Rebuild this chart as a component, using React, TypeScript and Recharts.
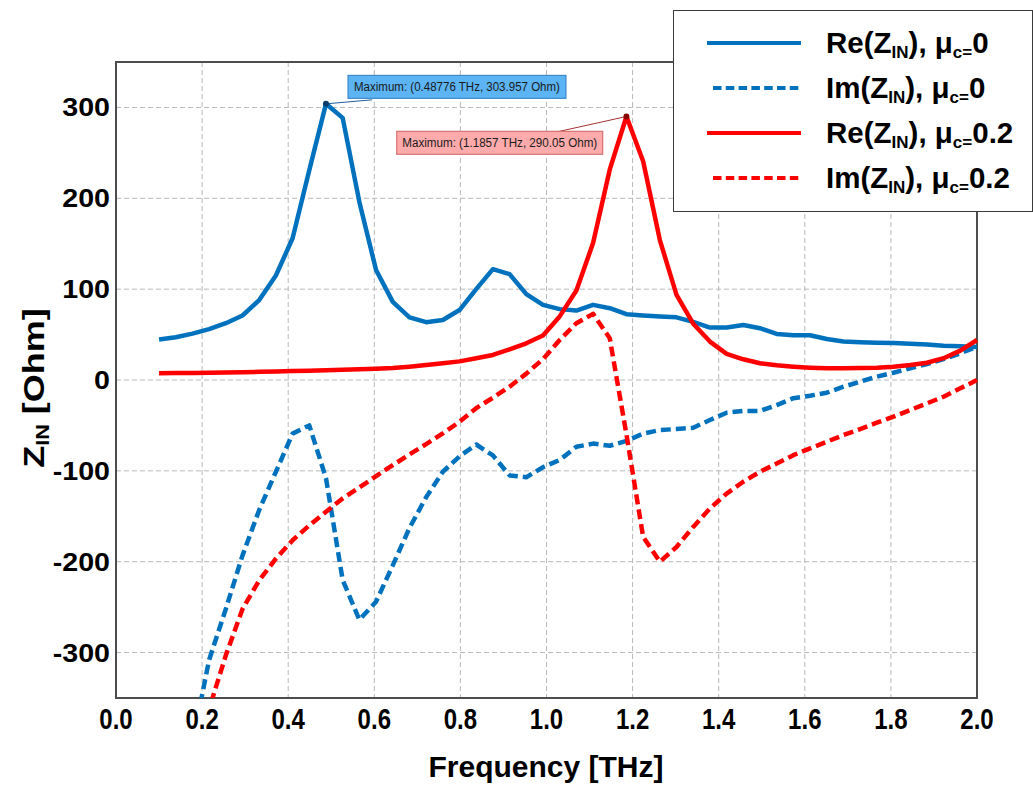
import React from 'react'
import {
  LineChart,
  Line,
  XAxis,
  YAxis,
  CartesianGrid,
  ReferenceArea,
  ReferenceDot,
  Legend,
} from 'recharts'

// frequency points [THz]
const freq = [
  0.1, 0.1388, 0.1776, 0.2163, 0.2551, 0.2939, 0.3327, 0.3714, 0.4102, 0.449,
  0.48776, 0.5265, 0.5653, 0.6041, 0.6429, 0.6816, 0.7204, 0.7592, 0.798, 0.8367,
  0.8755, 0.9143, 0.9531, 0.9918, 1.0306, 1.0694, 1.1082, 1.1469, 1.1857, 1.2245,
  1.2633, 1.302, 1.3408, 1.3796, 1.4184, 1.4571, 1.4959, 1.5347, 1.5735, 1.6122,
  1.651, 1.6898, 1.7286, 1.7673, 1.8061, 1.8449, 1.8837, 1.9224, 1.9612, 2.0,
]

// Re / Im of Z_IN [Ohm], mu_c = 0
const reMu0 = [
  44.5, 47, 51, 56, 62.5, 71, 88, 115, 156, 231,
  303.957, 288.5, 196, 121, 86, 69, 63.6, 66, 77, 100,
  122, 116.5, 94.5, 82.7, 78, 76.4, 82.7, 79, 72.4, 71,
  70, 69, 64, 57.7, 57.7, 60.6, 57, 50.7, 49.3, 49.3,
  45.2, 42.3, 41.6, 41.1, 40.8, 40, 39, 37.8, 37.1, 36.4,
]
const imMu0 = [
  -700, -540, -400, -308, -252, -193, -143, -101, -59, -50,
  -108, -220, -264, -244, -204, -163, -129, -101, -84, -71,
  -83, -105, -107, -96, -88, -73.5, -70, -72.4, -67, -59,
  -55, -54, -52.5, -44, -36, -34, -34, -27.6, -20, -17.3,
  -14, -7.4, -1.8, 3.7, 8, 12.9, 17.6, 23, 29.4, 36.7,
]

// Re / Im of Z_IN [Ohm], mu_c = 0.2
const reMu02 = [
  7.5, 7.6, 7.8, 8, 8.3, 8.6, 9, 9.4, 9.8, 10.3,
  10.8, 11.3, 11.9, 12.5, 13.3, 14.7, 16.5, 18.4, 20.5, 23.9,
  27.6, 33.8, 40.4, 49, 70, 98.5, 150.7, 231.5, 290.05, 240.7,
  154, 93.7, 62, 42.3, 28.7, 22.8, 18.4, 16.2, 14.7, 13.6,
  12.9, 12.9, 13.2, 13.6, 14.7, 16.5, 19, 24, 32.3, 44,
]
const imMu02 = [
  -680, -540, -440, -362, -303, -252, -220.5, -196.6, -176.4, -160,
  -145, -130.4, -118.3, -105.8, -93.7, -82, -70.6, -58.8, -46, -31,
  -19.5, -7.4, 7, 23, 44, 62.5, 72.8, 46, -60, -172.7,
  -200, -183.8, -161.7, -141.5, -125, -112, -101, -91.9, -82.7, -75.3,
  -68, -60.6, -54, -47, -40.4, -33, -25.7, -18.4, -9.2, 0,
]

const xTicks = [0, 0.2, 0.4, 0.6, 0.8, 1.0, 1.2, 1.4, 1.6, 1.8, 2.0]
const yTicks = [-300, -200, -100, 0, 100, 200, 300]

const peakBlue = { f: 0.48776, z: 303.957 }
const peakRed = { f: 1.1857, z: 290.05 }

const BLUE = '#0072BD'
const RED = '#FF0000'
const FONT = '"Liberation Sans", Arial, sans-serif'

const data = freq.map((f, i) => ({
  f,
  re0: reMu0[i],
  im0: imMu0[i],
  re2: reMu02[i],
  im2: imMu02[i],
}))

const series = [
  { key: 're0', color: BLUE, dashed: false, part: 'Re', mu: '0' },
  { key: 'im0', color: BLUE, dashed: true, part: 'Im', mu: '0' },
  { key: 're2', color: RED, dashed: false, part: 'Re', mu: '0.2' },
  { key: 'im2', color: RED, dashed: true, part: 'Im', mu: '0.2' },
]

function XTick(props: any) {
  const { x, y, payload } = props
  return (
    <g transform={`translate(${x},${y + 23}) scale(0.8,1)`}>
      <text textAnchor="middle" fontSize={30} fontWeight="bold" fontFamily={FONT} fill="#000">
        {payload.value.toFixed(1)}
      </text>
    </g>
  )
}

function YTick(props: any) {
  const { x, y, payload } = props
  return (
    <g transform={`translate(${x + 2},${y + 9}) scale(1.1,1)`}>
      <text textAnchor="end" fontSize={26} fontWeight="bold" fontFamily={FONT} fill="#000">
        {payload.value}
      </text>
    </g>
  )
}

const xTitle = () => (
  <text x={546} y={777} textAnchor="middle" fontSize={30} fontWeight="bold" fontFamily={FONT} fill="#000">
    Frequency [THz]
  </text>
)

const yTitle = () => (
  <g transform="translate(44,388) rotate(-90) scale(1.2,1)">
    <text textAnchor="middle" fontSize={30} fontWeight="bold" fontFamily={FONT} fill="#000">
      Z
      <tspan fontSize={18} dy={5}>IN</tspan>
      <tspan dy={-5}> [Ohm]</tspan>
    </text>
  </g>
)

function BlueNote(props: any) {
  const { cx, cy } = props
  return (
    <g>
      <line x1={cx} y1={cy} x2={cx + 46} y2={cy - 4} stroke="#1d5f9c" strokeWidth={1} />
      <rect x={cx + 22} y={cy - 28.5} width={218} height={23} fill="#5cb4f4" stroke="#2e7dc2" />
      <text
        x={cx + 131}
        y={cy - 12.5}
        textAnchor="middle"
        fontSize={12}
        fontFamily={FONT}
        fill="#1a1a1a"
        textLength={206}
        lengthAdjust="spacingAndGlyphs"
      >
        Maximum: (0.48776 THz, 303.957 Ohm)
      </text>
      <circle cx={cx} cy={cy} r={3} fill="#0b3d6b" />
    </g>
  )
}

function RedNote(props: any) {
  const { cx, cy } = props
  return (
    <g>
      <line x1={cx} y1={cy} x2={cx - 72} y2={cy + 16} stroke="#a33" strokeWidth={1} />
      <rect x={cx - 229.7} y={cy + 14.8} width={206} height={23} fill="#ffabab" stroke="#d06060" />
      <text
        x={cx - 126.7}
        y={cy + 31}
        textAnchor="middle"
        fontSize={12}
        fontFamily={FONT}
        fill="#1a1a1a"
        textLength={195}
        lengthAdjust="spacingAndGlyphs"
      >
        Maximum: (1.1857 THz, 290.05 Ohm)
      </text>
      <circle cx={cx} cy={cy} r={3} fill="#8b0000" />
    </g>
  )
}

function LegendBox() {
  return (
    <div
      style={{
        width: 360,
        height: 202,
        boxSizing: 'border-box',
        border: '1.5px solid #3a3a3a',
        background: '#fff',
      }}
    >
      <svg width={357} height={199} style={{ display: 'block' }}>
        {series.map((s, i) => {
          const cy = 32 + i * 45
          return (
            <g key={s.key}>
              <line
                x1={s.dashed ? 39 : 33}
                x2={127}
                y1={cy}
                y2={cy}
                stroke={s.color}
                strokeWidth={4}
                strokeDasharray={s.dashed ? '8.5 4.3' : undefined}
              />
              <text x={152} y={cy + 10} fontSize={29.5} fontWeight="bold" fontFamily={FONT} fill="#000">
                {s.part}(Z
                <tspan fontSize={17} dy={5}>IN</tspan>
                <tspan dy={-5}>), μ</tspan>
                <tspan fontSize={17} dy={5}>c=</tspan>
                <tspan dy={-5}>{s.mu}</tspan>
              </text>
            </g>
          )
        })}
      </svg>
    </div>
  )
}

export default function App() {
  return (
    <div style={{ position: 'absolute', left: 0, top: 0, width: 1033, height: 785, background: '#fff' }}>
      <LineChart width={1033} height={785} data={data} margin={{ top: 62, right: 56, bottom: 47, left: 16 }}>
        <CartesianGrid strokeDasharray="5 3" stroke="#b8b8b8" strokeWidth={1} />
        <XAxis
          type="number"
          dataKey="f"
          domain={[0, 2]}
          ticks={xTicks}
          height={40}
          axisLine={false}
          tickLine={false}
          tick={<XTick />}
          label={xTitle}
        />
        <YAxis
          domain={[-350, 350]}
          ticks={yTicks}
          allowDataOverflow
          width={100}
          axisLine={false}
          tickLine={false}
          tick={<YTick />}
          label={yTitle}
        />
        <ReferenceArea x1={0} x2={2} y1={-350} y2={350} fill="none" stroke="#4d4d4d" strokeWidth={2} />
        {series.map((s) => (
          <Line
            key={s.key}
            type="linear"
            dataKey={s.key}
            stroke={s.color}
            strokeWidth={4.5}
            strokeDasharray={s.dashed ? '10 5' : undefined}
            strokeLinejoin="round"
            dot={false}
            activeDot={false}
            isAnimationActive={false}
          />
        ))}
        <ReferenceDot x={peakBlue.f} y={peakBlue.z} shape={BlueNote} />
        <ReferenceDot x={peakRed.f} y={peakRed.z} shape={RedNote} />
        <Legend
          layout="vertical"
          align="center"
          verticalAlign="middle"
          wrapperStyle={{ position: 'absolute', left: 673, top: 10, width: 360, height: 202 }}
          content={LegendBox}
        />
      </LineChart>
    </div>
  )
}
